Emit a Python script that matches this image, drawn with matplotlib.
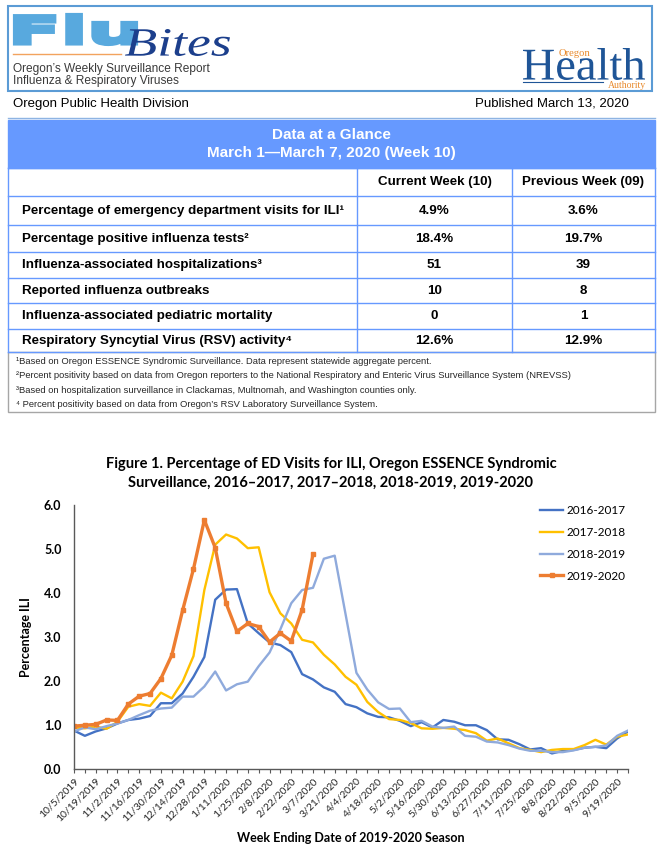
import matplotlib
matplotlib.use('Agg')
import matplotlib.pyplot as plt
import numpy as np
from matplotlib import font_manager
from matplotlib.font_manager import FontProperties
from matplotlib.patches import Rectangle, PathPatch
from matplotlib.textpath import TextPath
from matplotlib.transforms import Affine2D

W, H = 664, 855

# ---- chart data ----
week_labels = ['10/5/2019', '10/19/2019', '11/2/2019', '11/16/2019', '11/30/2019',
               '12/14/2019', '12/28/2019', '1/11/2020', '1/25/2020', '2/8/2020',
               '2/22/2020', '3/7/2020', '3/21/2020', '4/4/2020', '4/18/2020',
               '5/2/2020', '5/16/2020', '5/30/2020', '6/13/2020', '6/27/2020',
               '7/11/2020', '7/25/2020', '8/8/2020', '8/22/2020', '9/5/2020', '9/19/2020']

season_names = ['2016-2017', '2017-2018', '2018-2019', '2019-2020']

ili_2016_2017 = [0.88, 0.76, 0.86, 0.93, 1.04, 1.12, 1.15, 1.21, 1.50, 1.50,
                 1.72, 2.10, 2.55, 3.85, 4.08, 4.09, 3.31, 3.09, 2.88, 2.82,
                 2.66, 2.16, 2.04, 1.86, 1.76, 1.48, 1.41, 1.27, 1.19, 1.18,
                 1.10, 0.98, 1.07, 0.95, 1.12, 1.08, 1.00, 1.00, 0.89, 0.68,
                 0.67, 0.57, 0.45, 0.48, 0.36, 0.42, 0.44, 0.49, 0.51, 0.48,
                 0.70, 0.86]

ili_2017_2018 = [0.95, 0.93, 0.97, 0.92, 1.08, 1.42, 1.48, 1.44, 1.74, 1.61,
                 1.99, 2.57, 4.07, 5.10, 5.33, 5.24, 5.02, 5.04, 4.02, 3.54,
                 3.31, 2.94, 2.88, 2.60, 2.38, 2.10, 1.92, 1.53, 1.30, 1.14,
                 1.12, 1.05, 0.93, 0.92, 0.94, 0.92, 0.89, 0.82, 0.65, 0.70,
                 0.59, 0.48, 0.44, 0.39, 0.44, 0.46, 0.46, 0.55, 0.67, 0.56,
                 0.74, 0.79]

ili_2018_2019 = [0.86, 0.95, 0.91, 0.98, 1.04, 1.12, 1.23, 1.33, 1.38, 1.40,
                 1.65, 1.65, 1.88, 2.22, 1.79, 1.93, 1.99, 2.34, 2.65, 3.18,
                 3.77, 4.07, 4.12, 4.78, 4.85, 3.52, 2.19, 1.81, 1.52, 1.37,
                 1.38, 1.07, 1.10, 0.97, 0.94, 0.97, 0.76, 0.74, 0.63, 0.61,
                 0.55, 0.47, 0.42, 0.42, 0.39, 0.39, 0.43, 0.49, 0.51, 0.54,
                 0.76, 0.88]

ili_2019_2020 = [0.98, 1.00, 1.02, 1.12, 1.11, 1.48, 1.66, 1.72, 2.06, 2.59,
                 3.61, 4.55, 5.66, 5.03, 3.77, 3.13, 3.31, 3.24, 2.89, 3.09,
                 2.91, 3.62, 4.88]

season_colors = ['#4472C4', '#FFC000', '#8FAADC', '#ED7D31']

# ---- table data ----
table_rows = ['Percentage of emergency department visits for ILI\u00b9',
              'Percentage positive influenza tests\u00b2',
              'Influenza-associated hospitalizations\u00b3',
              'Reported influenza outbreaks',
              'Influenza-associated pediatric mortality',
              'Respiratory Syncytial Virus (RSV) activity\u2074']
current_week = ['4.9%', '18.4%', '51', '10', '0', '12.6%']
previous_week = ['3.6%', '19.7%', '39', '8', '1', '12.9%']
footnotes = ['\u00b9Based on Oregon ESSENCE Syndromic Surveillance. Data represent statewide aggregate percent.',
             '\u00b2Percent positivity based on data from Oregon reporters to the National Respiratory and Enteric Virus Surveillance System (NREVSS)',
             '\u00b3Based on hospitalization surveillance in Clackamas, Multnomah, and Washington counties only.',
             '\u2074 Percent positivity based on data from Oregon\u2019s RSV Laboratory Surveillance System.']

installed = {f.name for f in font_manager.fontManager.ttflist}
if 'Liberation Sans Narrow' in installed:
    narrow, nscale = 'Liberation Sans Narrow', 1.0
else:
    narrow, nscale = 'Liberation Sans', 0.82
narrow_fam = [narrow, 'DejaVu Sans']
chart_fam = ['Lato', 'DejaVu Sans']


def fit_text(ax, s, x0, y0, x1, y1, prop, color, lw=0):
    # squeeze a text outline into a pixel box (page coords, y down)
    path = TextPath((0, 0), s, size=100, prop=prop)
    bb = path.get_extents()
    tr = (Affine2D().translate(-bb.x0, -bb.y0)
          .scale((x1 - x0) / bb.width, -(y1 - y0) / bb.height)
          .translate(x0, y1))
    ax.add_patch(PathPatch(tr.transform_path(path), fc=color, ec=color, lw=lw,
                           joinstyle='miter'))


fig = plt.figure(figsize=(W / 100, H / 100), dpi=100)
page = fig.add_axes([0, 0, 1, 1])
page.set_xlim(0, W)
page.set_ylim(H, 0)
page.axis('off')

# ---- masthead ----
page.add_patch(Rectangle((8, 6), 644, 85, fill=False, ec='#5B9BD5', lw=1.5))
fit_text(page, 'Flu', 15, 15, 136, 44, FontProperties(family='DejaVu Sans', weight='bold'),
         '#58A9DE', lw=3)
page.plot([13, 121], [54, 54], color='#F2A35E', lw=1)
fit_text(page, 'Bites', 125, 29, 230, 56, FontProperties(family='Liberation Serif', style='italic'),
         '#1C3F8C')
page.text(13, 69, 'Oregon\u2019s Weekly Surveillance Report', fontsize=8.6, va='center',
          family='Liberation Sans', color='#3A3A3A')
page.text(13, 81, 'Influenza & Respiratory Viruses', fontsize=8.6, va='center',
          family='Liberation Sans', color='#3A3A3A')

fit_text(page, 'Health', 523, 48, 645, 80, FontProperties(family='Liberation Serif'), '#1F5597')
page.plot([523, 603], [82, 82], color='#1F5597', lw=0.8)
page.text(559, 54, 'Oregon', fontsize=7.6, va='center', family='Liberation Serif', color='#E8892B')
page.text(646, 85, 'Authority', fontsize=7, va='center', ha='right', family='Liberation Serif',
          color='#E8892B')

page.text(13, 104, 'Oregon Public Health Division', fontsize=9.5, va='center', family='Liberation Sans')
page.text(629, 104, 'Published March 13, 2020', fontsize=9.5, va='center', ha='right',
          family='Liberation Sans')
page.plot([8, 655], [118, 118], color='#8EB4E3', lw=1)

# ---- data at a glance table ----
tbl_l, tbl_r = 8, 655
col1, col2 = 357, 512
row_edges = [168, 196, 225, 252, 278, 303, 329, 352]
blue = '#6699FF'

page.add_patch(Rectangle((tbl_l, 120), tbl_r - tbl_l, 48, fc=blue, ec=blue, lw=1))
page.text((tbl_l + tbl_r) / 2, 135, 'Data at a Glance', color='white', fontsize=13.4 * nscale,
          ha='center', va='center', family=narrow_fam, weight='bold')
page.text((tbl_l + tbl_r) / 2, 153, 'March 1\u2014March 7, 2020 (Week 10)', color='white',
          fontsize=13.4 * nscale, ha='center', va='center', family=narrow_fam, weight='bold')

page.add_patch(Rectangle((tbl_l, 352), tbl_r - tbl_l, 60, fill=False, ec='#A6A6A6', lw=1))
for y in row_edges:
    page.plot([tbl_l, tbl_r], [y, y], color=blue, lw=1)
for x in [tbl_l, col1, col2, tbl_r]:
    page.plot([x, x], [row_edges[0], row_edges[-1]], color=blue, lw=1)

cell_size = 11.8 * nscale
hdr_y = (row_edges[0] + row_edges[1]) / 2
page.text((col1 + col2) / 2, hdr_y, 'Current Week (10)', fontsize=cell_size, ha='center',
          va='center', family=narrow_fam, weight='bold')
page.text((col2 + tbl_r) / 2, hdr_y, 'Previous Week (09)', fontsize=cell_size, ha='center',
          va='center', family=narrow_fam, weight='bold')
for i, (lab, cur, prev) in enumerate(zip(table_rows, current_week, previous_week)):
    yc = (row_edges[i + 1] + row_edges[i + 2]) / 2
    page.text(22, yc, lab, fontsize=cell_size, va='center', family=narrow_fam, weight='bold')
    page.text((col1 + col2) / 2, yc, cur, fontsize=cell_size, ha='center', va='center',
              family=narrow_fam, weight='bold')
    page.text((col2 + tbl_r) / 2, yc, prev, fontsize=cell_size, ha='center', va='center',
              family=narrow_fam, weight='bold')

for i, note in enumerate(footnotes):
    page.text(16, 361 + 14.5 * i, note, fontsize=8.2 * nscale, va='center', family=narrow_fam,
              color='#262626')

# ---- figure 1 ----
page.text(331, 464, 'Figure 1. Percentage of ED Visits for ILI, Oregon ESSENCE Syndromic',
          fontsize=10.5, weight='bold', ha='center', va='center', family=chart_fam)
page.text(331, 483, 'Surveillance, 2016\u20132017, 2017\u20132018, 2018-2019, 2019-2020',
          fontsize=10.5, weight='bold', ha='center', va='center', family=chart_fam)
page.text(26, 637, 'Percentage ILI', rotation=90, fontsize=9, weight='bold', ha='center',
          va='center', family=chart_fam)
page.text(351, 838, 'Week Ending Date of 2019-2020 Season', fontsize=9, weight='bold',
          ha='center', va='center', family=chart_fam)

ax = fig.add_axes([74 / W, 1 - 769.3 / H, 554 / W, 264.3 / H])
ax.patch.set_alpha(0)
weeks = np.arange(len(ili_2016_2017))
for vals, name, col in zip([ili_2016_2017, ili_2017_2018, ili_2018_2019], season_names[:3],
                           season_colors[:3]):
    ax.plot(weeks, vals, color=col, lw=1.7, label=name)
ax.plot(np.arange(len(ili_2019_2020)), ili_2019_2020, color=season_colors[3], lw=2.4,
        marker='s', ms=3.5, label=season_names[3])

ax.set_xlim(0, len(weeks) - 1)
ax.set_ylim(0, 6)
for side in ['top', 'right']:
    ax.spines[side].set_visible(False)
for side in ['left', 'bottom']:
    ax.spines[side].set_color('#595959')
    ax.spines[side].set_linewidth(1)

ax.set_xticks(weeks[::2])
ax.set_xticklabels(week_labels, rotation=45, ha='right', rotation_mode='anchor',
                   fontsize=7.5, family=chart_fam, color='#262626')
ax.set_xticks(weeks[1::2], minor=True)
ax.tick_params(axis='x', which='both', direction='out', length=3, width=0.8,
               color='#595959', pad=2)
ax.set_yticks(range(7))
ax.set_yticklabels(['%.1f' % v for v in range(7)], fontsize=9, weight='bold', family=chart_fam)
ax.tick_params(axis='y', length=0, pad=9)

ax.legend(loc='upper left', bbox_to_anchor=(540 / W, 1 - 505 / H), bbox_transform=fig.transFigure,
          frameon=False, borderpad=0, borderaxespad=0, handlelength=1.95, handletextpad=0.3,
          labelspacing=0.92, prop={'family': chart_fam, 'size': 8.5})

fig.savefig('out.png', dpi=100)
